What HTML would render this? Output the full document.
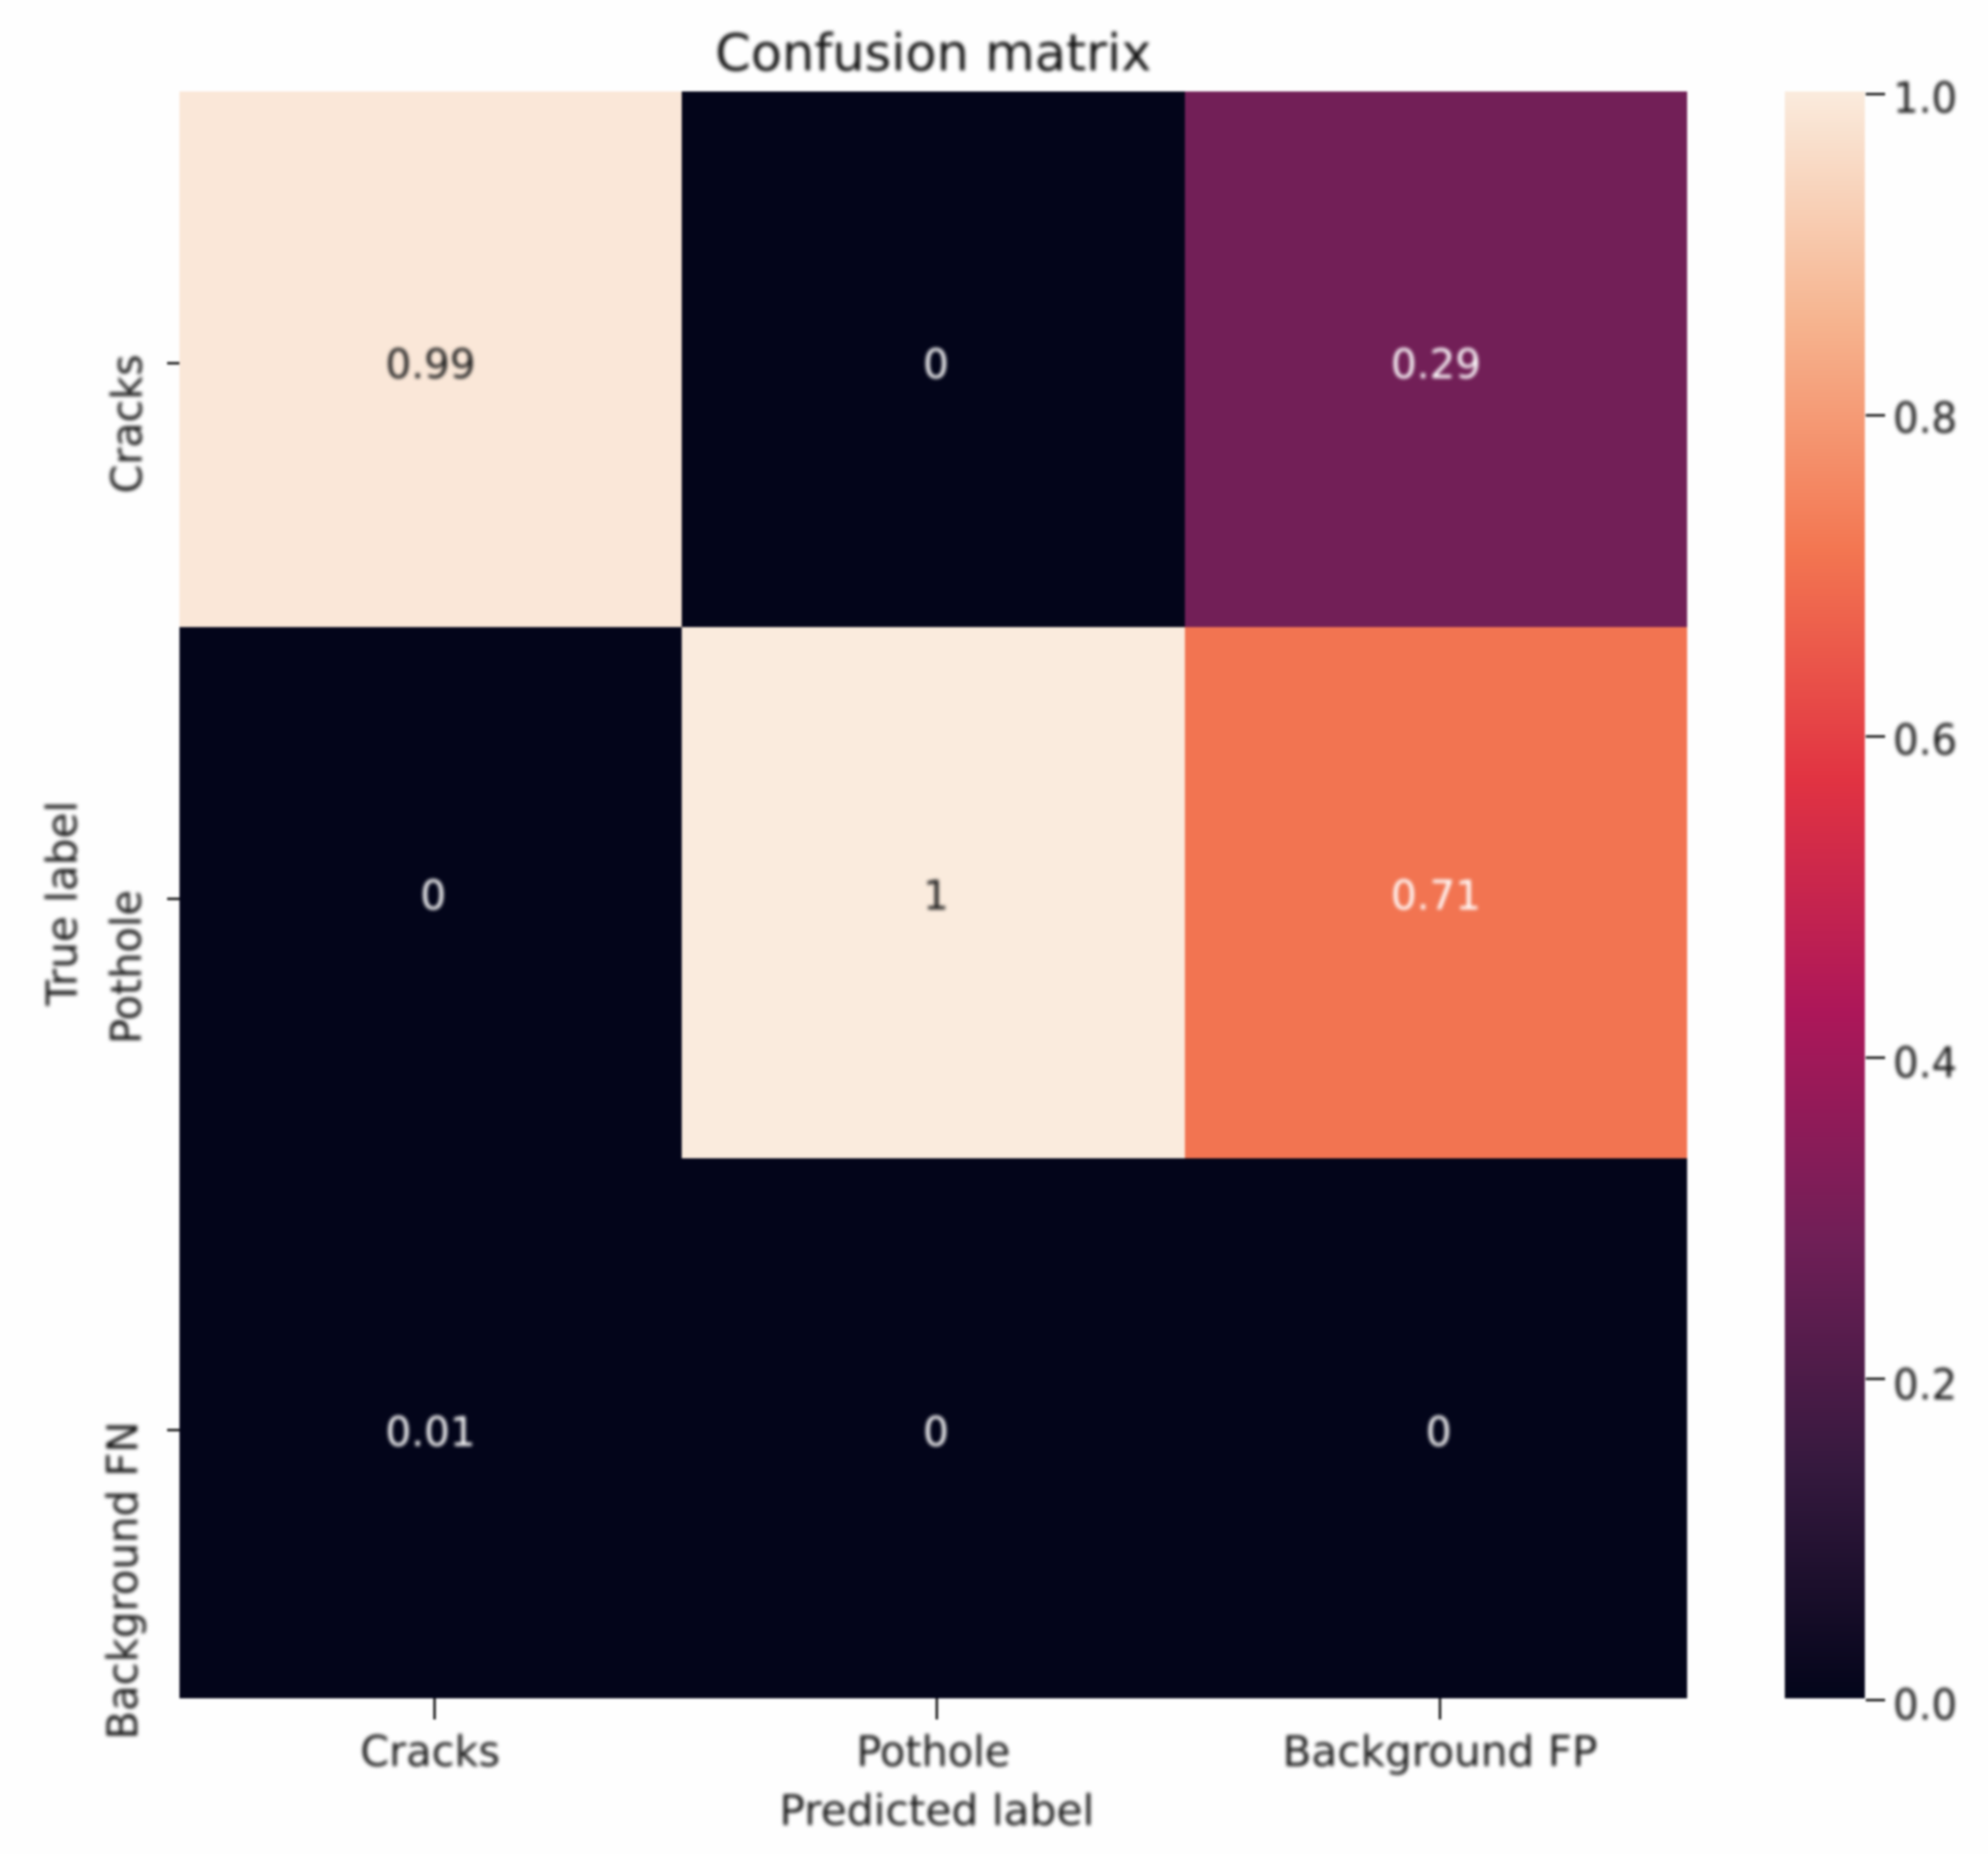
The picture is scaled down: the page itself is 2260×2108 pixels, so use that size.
<!DOCTYPE html>
<html lang="en">
<head>
<meta charset="utf-8">
<title>Confusion matrix</title>
<style>
  html, body { margin: 0; padding: 0; background: #fefefe; }
  svg { display: block; }
  text { font-family: "DejaVu Sans", "Liberation Sans", sans-serif; }
</style>
</head>
<body>
<svg id="chart" xmlns="http://www.w3.org/2000/svg" width="2260" height="2108" viewBox="0 0 2260 2108">
  <defs>
    <filter id="soft" filterUnits="userSpaceOnUse" x="0" y="0" width="2260" height="2108" color-interpolation-filters="sRGB">
      <feGaussianBlur stdDeviation="1.3"/>
    </filter>
    <filter id="soft-text" filterUnits="userSpaceOnUse" x="0" y="0" width="2260" height="2108" color-interpolation-filters="sRGB">
      <feGaussianBlur stdDeviation="2.1"/>
    </filter>
    <linearGradient id="rocket-gradient" x1="0" y1="1" x2="0" y2="0"></linearGradient>
  </defs>
  <rect x="0" y="0" width="2260" height="2108" fill="#fefefe"/>
  <g id="root" filter="url(#soft)"></g>
  <g id="text-root" filter="url(#soft-text)"></g>
</svg>
<script>
// ---- chart data ----
const predictedLabels = ['Cracks', 'Pothole', 'Background FP'];
const trueLabels = ['Cracks', 'Pothole', 'Background FN'];
const matrixRowCracks = [0.99, 0, 0.29];
const matrixRowPothole = [0, 1, 0.71];
const matrixRowBackground = [0.01, 0, 0];
const colorbarTicks = [0, 0.2, 0.4, 0.6, 0.8, 1];
const rocketColors = ['#03051a', '#35193e', '#701f57', '#ad1759', '#e13342', '#f37651', '#f6b48f', '#faebdd'];
const matrixRows = [matrixRowCracks, matrixRowPothole, matrixRowBackground];

// ---- scales ----
const NS = 'http://www.w3.org/2000/svg';
const root = document.getElementById('root');
const textRoot = document.getElementById('text-root');
const gradient = document.getElementById('rocket-gradient');

function piecewise(stops, t) {
  const n = stops.length - 1;
  const k = Math.max(0, Math.min(n - 1e-9, t * n));
  const i = Math.floor(k);
  return stops[i] + (stops[i + 1] - stops[i]) * (k - i);
}
function xEdge(i) { return piecewise([204, 775, 1347, 1918], i / predictedLabels.length); }
function yEdge(i) { return piecewise([104, 713, 1317, 1931], i / trueLabels.length); }
function xTick(i) { return piecewise([494, 1065, 1637], i / (predictedLabels.length - 1)); }
function yTick(i) { return piecewise([413, 1022, 1626], i / (trueLabels.length - 1)); }
function annotY(i) { return piecewise([430, 1034, 1644], i / (trueLabels.length - 1)); }
function cbarTickY(v) { return 1933 - v * 1826; }
function cbarLabelY(v) { return piecewise([1955, 1591, 1225, 858, 492, 128], v); }

function hexToRgb(h) {
  return [parseInt(h.slice(1, 3), 16), parseInt(h.slice(3, 5), 16), parseInt(h.slice(5, 7), 16)];
}
function colorScale(v) {
  // the real colormap stays flat at its darkest for the first percent or so
  const t = v < 0.015 ? 0 : v;
  const n = rocketColors.length - 1;
  const k = Math.max(0, Math.min(n - 1e-9, t * n));
  const i = Math.floor(k);
  const a = hexToRgb(rocketColors[i]);
  const b = hexToRgb(rocketColors[i + 1]);
  const f = k - i;
  return 'rgb(' + a.map(function (c, j) { return Math.round(c + (b[j] - c) * f); }).join(',') + ')';
}

function makeText(str, x, y, size, fill, anchor, rotate, width) {
  const el = document.createElementNS(NS, 'text');
  el.textContent = str;
  el.setAttribute('font-size', size);
  el.setAttribute('fill', fill);
  el.setAttribute('text-anchor', anchor);
  if (rotate) {
    el.setAttribute('transform', 'translate(' + x + ' ' + y + ') rotate(' + rotate + ')');
    el.setAttribute('x', 0);
    el.setAttribute('y', 0);
  } else {
    el.setAttribute('x', x);
    el.setAttribute('y', y);
  }
  if (width) {
    el.setAttribute('textLength', width);
    el.setAttribute('lengthAdjust', 'spacingAndGlyphs');
  }
  textRoot.appendChild(el);
  return el;
}
function makeLine(x1, y1, x2, y2) {
  const el = document.createElementNS(NS, 'line');
  el.setAttribute('x1', x1);
  el.setAttribute('y1', y1);
  el.setAttribute('x2', x2);
  el.setAttribute('y2', y2);
  el.setAttribute('stroke', '#262626');
  el.setAttribute('stroke-width', '3');
  root.appendChild(el);
  return el;
}

// ---- heatmap cells ----
matrixRows.forEach(function (row, r) {
  row.forEach(function (value, c) {
    const rect = document.createElementNS(NS, 'rect');
    rect.setAttribute('x', xEdge(c));
    rect.setAttribute('y', yEdge(r));
    rect.setAttribute('width', xEdge(c + 1) - xEdge(c));
    rect.setAttribute('height', yEdge(r + 1) - yEdge(r));
    rect.setAttribute('fill', colorScale(value));
    
    
    root.appendChild(rect);
  });
});

// ---- cell annotations ----
matrixRows.forEach(function (row, r) {
  row.forEach(function (value, c) {
    const label = String(value);
    const cx = (xEdge(c) + xEdge(c + 1)) / 2 + (label.length === 1 ? 3 : 0);
    const ink = value >= 0.9 ? '#1f1f1f' : '#ffffff';
    const t = makeText(label, cx, annotY(r), 46, ink, 'middle', 0, 0);
    
    
  });
});

// ---- x axis ----
const xLabelFit = { 'Cracks': [489, 159], 'Pothole': [1061, 175], 'Background FP': [1637, 358] };
predictedLabels.forEach(function (label, i) {
  const tick = makeLine(xTick(i), 1931, xTick(i), 1955);
  
  
  const fit = xLabelFit[label] || [xTick(i), 0];
  const t = makeText(label, fit[0], 2008, 48, '#1a1a1a', 'middle', 0, fit[1]);
  
  
});

// ---- y axis ----
const yLabelFit = { 'Cracks': [161, 158], 'Pothole': [160, 175], 'Background FN': [156, 362] };
trueLabels.forEach(function (label, i) {
  const tick = makeLine(190, yTick(i), 204, yTick(i));
  
  
  const fit = yLabelFit[label] || [161, 0];
  const t = makeText(label, fit[0], yTick(i) - 10, 48, '#1a1a1a', 'end', -90, fit[1]);
  
  
});

// ---- colorbar ----
rocketColors.forEach(function (color, i) {
  const stop = document.createElementNS(NS, 'stop');
  stop.setAttribute('offset', i / (rocketColors.length - 1));
  stop.setAttribute('stop-color', color);
  gradient.appendChild(stop);
});
const bar = document.createElementNS(NS, 'rect');
bar.setAttribute('x', 2029);
bar.setAttribute('y', 104);
bar.setAttribute('width', 91);
bar.setAttribute('height', 1827);
bar.setAttribute('fill', 'url(#rocket-gradient)');


root.appendChild(bar);

colorbarTicks.forEach(function (v) {
  const tick = makeLine(2121, cbarTickY(v), 2143, cbarTickY(v));
  
  
  const t = makeText(v.toFixed(1), 2152, cbarLabelY(v), 48, '#1a1a1a', 'start', 0, 73);
  
  
});

// ---- titles ----
const titleEl = makeText('Confusion matrix', 1061, 80, 57.6, '#111111', 'middle', 0, 496);



const xTitleEl = makeText('Predicted label', 1065, 2075, 48, '#1a1a1a', 'middle', 0, 358);



const yTitleEl = makeText('True label', 87, 1027, 48, '#1a1a1a', 'middle', -90, 233);


</script>
</body>
</html>
